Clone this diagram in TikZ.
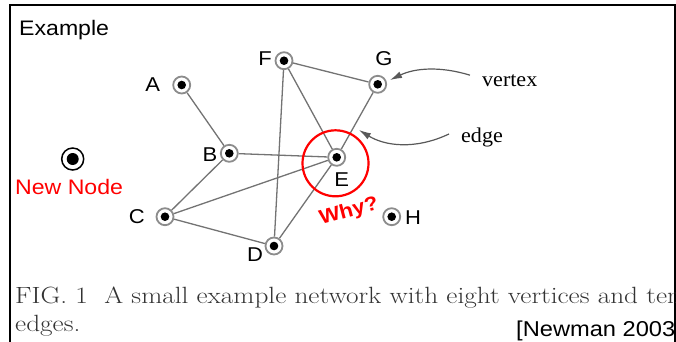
\documentclass[tikz,border=0pt]{standalone}
\usepackage{fontspec}
\setmainfont[FakeStretch=1.1]{Liberation Sans}
\newfontfamily\serifx[FakeStretch=1.05]{Liberation Serif}
\newfontfamily\lmr[FakeStretch=1.16]{Latin Modern Roman}
\usetikzlibrary{arrows.meta,backgrounds}
\tikzset{
  vtx/.style={circle, draw=black!45, line width=1.8pt, fill=white, minimum size=17pt, inner sep=0pt,
    path picture={\fill[black] (path picture bounding box.center) circle (4.3pt);}},
  newvtx/.style={circle, draw=black, line width=1.5pt, fill=white, minimum size=22pt, inner sep=0pt,
    path picture={\fill[black] (path picture bounding box.center) circle (6pt);}},
  lbl/.style={font=\fontsize{20}{24}\selectfont, inner sep=0pt},
  edge/.style={draw=black!55, line width=1.3pt},
  ann/.style={draw=black!65, line width=1.2pt, -{Latex[length=12pt,width=7pt]}},
  captxt/.style={anchor=base west, inner sep=0pt, text=black!80, font=\lmr\fontsize{23.5}{28}\selectfont},
}
\begin{document}
\begin{tikzpicture}[x=1pt,y=-1pt]
\useasboundingbox (0,0) rectangle (676,341);
% frame
\draw[line width=2pt] (10,345) -- (10,5) -- (675,5) -- (675,345);
\node[anchor=base west, inner sep=0pt, font=\fontsize{21}{25}\selectfont] (title) at (19,35) {Example};
% vertices
\node[vtx] (A) at (181.7,85) {};
\node[vtx] (B) at (229.3,153.3) {};
\node[vtx] (C) at (165,216.7) {};
\node[vtx] (D) at (274,246) {};
\node[vtx] (E) at (336.7,157.3) {};
\node[vtx] (F) at (284,60.7) {};
\node[vtx] (G) at (377.7,84.3) {};
\node[vtx] (H) at (391.7,216.7) {};
\node[newvtx] (N) at (72.7,159) {};
% labels
\node[lbl] (lA) at (152.7,85) {A};
\node[lbl] (lB) at (210,155) {B};
\node[lbl] (lC) at (136.7,217) {C};
\node[lbl] (lD) at (255,255) {D};
\node[lbl] (lE) at (341.7,180) {E};
\node[lbl] (lF) at (265,59) {F};
\node[lbl] (lG) at (384,59) {G};
\node[lbl] (lH) at (413,218) {H};
\node[lbl, anchor=base west, text=red, font=\fontsize{21}{25}\selectfont] (lN) at (15,194) {New Node};
% edges
\begin{pgfonlayer}{background}
\draw[edge] (A) -- (B);
\draw[edge] (B) -- (C);
\draw[edge] (B) -- (E);
\draw[edge] (C) -- (E);
\draw[edge] (C) -- (D);
\draw[edge] (D) -- (F);
\draw[edge] (D) -- (E);
\draw[edge] (F) -- (E);
\draw[edge] (F) -- (G);
\draw[edge] (G) -- (E);
\end{pgfonlayer}
% red highlight
\node[circle, draw=red, line width=2.2pt, minimum size=66pt, inner sep=0pt] (hl) at (335.5,163.3) {};
\node[text=red, font=\bfseries\fontsize{20}{24}\selectfont, rotate=15, inner sep=0pt] (why) at (349,212) {Why?};
% annotations
\node[anchor=base west, inner sep=0pt, font=\serifx\fontsize{21}{25}\selectfont] (vt) at (482,86) {vertex};
\node[anchor=base west, inner sep=0pt, font=\serifx\fontsize{21}{25}\selectfont] (ed) at (461,142) {edge};
\coordinate (vtip) at (390,80);
\coordinate (etip) at (359,130);
\draw[ann] (vt.west) ++(-12,-5) .. controls (440,66) and (415,68) .. (vtip);
\draw[ann] (ed.west) ++(-12,-3) .. controls (415,150) and (385,146) .. (etip);
% caption
\begin{scope}
\clip (10,5) rectangle (675,341);
\node[captxt] (cap1) at (15,303) {FIG. 1\ \ A small example network with eight vertices and ten};
\node[captxt] (cap2) at (15,331) {edges.};
\node[anchor=base west, inner sep=0pt, font=\fontsize{21.5}{25}\selectfont] (ref) at (516,336) {[Newman 2003]};
\end{scope}
\end{tikzpicture}
\end{document}
